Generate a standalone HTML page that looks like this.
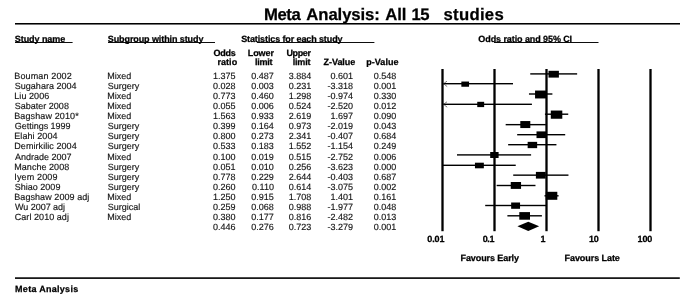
<!DOCTYPE html>
<html><head><meta charset="utf-8"><title>Meta Analysis</title>
<style>
html,body{margin:0;padding:0;background:#fff;}
body{width:685px;height:302px;overflow:hidden;}
svg{display:block;position:absolute;left:0;top:0;will-change:transform;filter:grayscale(1);}
text{font-family:"Liberation Sans",sans-serif;font-size:9px;fill:#141414;white-space:pre;stroke:#141414;stroke-width:0.15px;}
.b{font-weight:bold;fill:#000;stroke:#000;stroke-width:0.25px;}
.t{font-size:16.7px;}
</style></head><body>
<svg width="685" height="302" viewBox="0 0 685 302" text-rendering="geometricPrecision">
<rect x="0" y="0" width="685" height="302" fill="#fff"/>
<text x="264.00" y="20.00" class="b t" letter-spacing="-0.417">Meta</text>
<text x="306.35" y="20.00" class="b t" letter-spacing="-0.088">Analysis:</text>
<text x="385.35" y="20.00" class="b t" letter-spacing="-0.200">All</text>
<text x="411.60" y="20.00" class="b t" letter-spacing="-0.550">15</text>
<text x="443.50" y="20.00" class="b t" letter-spacing="0.292">studies</text>
<text x="14.75" y="42.05" class="b" letter-spacing="-0.056">Study name</text>
<text x="107.75" y="42.05" class="b" letter-spacing="-0.092">Subgroup within study</text>
<text x="241.15" y="42.05" class="b" letter-spacing="-0.110">Statistics for each study</text>
<text x="478.35" y="42.05" class="b" letter-spacing="-0.087">Odds ratio and 95% CI</text>
<text x="213.55" y="56.20" class="b" letter-spacing="-0.233">Odds</text>
<text x="217.50" y="64.50" class="b" letter-spacing="0.038">ratio</text>
<text x="247.70" y="56.20" class="b" letter-spacing="-0.050">Lower</text>
<text x="254.90" y="64.50" class="b" letter-spacing="-0.250">limit</text>
<text x="286.40" y="56.20" class="b" letter-spacing="-0.375">Upper</text>
<text x="292.70" y="64.50" class="b" letter-spacing="-0.175">limit</text>
<text x="323.55" y="64.50" class="b" letter-spacing="-0.050">Z-Value</text>
<text x="366.30" y="64.50" class="b" letter-spacing="0.025">p-Value</text>
<text x="15.10" y="292.00" class="b" letter-spacing="0.283">Meta Analysis</text>
<text x="427.15" y="242.30" class="b" letter-spacing="-0.017">0.01</text>
<text x="482.75" y="242.30" class="b" letter-spacing="-0.425">0.1</text>
<text x="540.50" y="242.30" class="b">1</text>
<text x="589.10" y="242.30" class="b" letter-spacing="-0.250">10</text>
<text x="637.50" y="242.30" class="b" letter-spacing="-0.125">100</text>
<text x="460.50" y="261.00" class="b" letter-spacing="-0.083">Favours Early</text>
<text x="564.50" y="261.00" class="b" letter-spacing="-0.059">Favours Late</text>
<text x="14.25" y="78.60" letter-spacing="0.140">Bouman 2002</text>
<text x="107.25" y="78.60">Mixed</text>
<text x="213.05" y="78.60">1.375</text>
<text x="251.35" y="78.60">0.487</text>
<text x="288.75" y="78.60">3.884</text>
<text x="330.55" y="78.60">0.601</text>
<text x="373.65" y="78.60">0.548</text>
<text x="14.75" y="88.50" letter-spacing="0.021">Sugahara 2004</text>
<text x="107.75" y="88.50">Surgery</text>
<text x="213.05" y="88.50">0.028</text>
<text x="251.35" y="88.50">0.003</text>
<text x="288.75" y="88.50">0.231</text>
<text x="327.55" y="88.50">-3.318</text>
<text x="373.65" y="88.50">0.001</text>
<text x="14.25" y="98.60" letter-spacing="0.071">Liu 2006</text>
<text x="107.25" y="98.60">Mixed</text>
<text x="213.05" y="98.60">0.773</text>
<text x="251.35" y="98.60">0.460</text>
<text x="288.75" y="98.60">1.298</text>
<text x="327.55" y="98.60">-0.974</text>
<text x="373.65" y="98.60">0.330</text>
<text x="14.75" y="108.60" letter-spacing="0.009">Sabater 2008</text>
<text x="107.25" y="108.60">Mixed</text>
<text x="213.05" y="108.60">0.055</text>
<text x="251.35" y="108.60">0.006</text>
<text x="288.75" y="108.60">0.524</text>
<text x="327.55" y="108.60">-2.520</text>
<text x="373.65" y="108.60">0.012</text>
<text x="14.25" y="118.60" letter-spacing="0.112">Bagshaw 2010*</text>
<text x="107.25" y="118.60">Mixed</text>
<text x="213.05" y="118.60">1.563</text>
<text x="251.35" y="118.60">0.933</text>
<text x="288.75" y="118.60">2.619</text>
<text x="330.55" y="118.60">1.697</text>
<text x="373.65" y="118.60">0.090</text>
<text x="14.75" y="128.70" letter-spacing="-0.017">Gettings 1999</text>
<text x="107.75" y="128.70">Surgery</text>
<text x="213.05" y="128.70">0.399</text>
<text x="251.35" y="128.70">0.164</text>
<text x="288.75" y="128.70">0.973</text>
<text x="327.55" y="128.70">-2.019</text>
<text x="373.65" y="128.70">0.043</text>
<text x="14.25" y="139.10" letter-spacing="0.078">Elahi 2004</text>
<text x="107.75" y="139.10">Surgery</text>
<text x="213.05" y="139.10">0.800</text>
<text x="251.35" y="139.10">0.273</text>
<text x="288.75" y="139.10">2.341</text>
<text x="327.55" y="139.10">-0.407</text>
<text x="373.65" y="139.10">0.684</text>
<text x="14.25" y="149.00" letter-spacing="0.064">Demirkilic 2004</text>
<text x="107.75" y="149.00">Surgery</text>
<text x="213.05" y="149.00">0.533</text>
<text x="251.35" y="149.00">0.183</text>
<text x="288.75" y="149.00">1.552</text>
<text x="327.55" y="149.00">-1.154</text>
<text x="373.65" y="149.00">0.249</text>
<text x="15.00" y="159.50" letter-spacing="0.005">Andrade 2007</text>
<text x="107.25" y="159.50">Mixed</text>
<text x="213.05" y="159.50">0.100</text>
<text x="251.35" y="159.50">0.019</text>
<text x="288.75" y="159.50">0.515</text>
<text x="327.55" y="159.50">-2.752</text>
<text x="373.65" y="159.50">0.006</text>
<text x="14.25" y="169.50" letter-spacing="0.040">Manche 2008</text>
<text x="107.75" y="169.50">Surgery</text>
<text x="213.05" y="169.50">0.051</text>
<text x="251.35" y="169.50">0.010</text>
<text x="288.75" y="169.50">0.256</text>
<text x="327.55" y="169.50">-3.623</text>
<text x="373.65" y="169.50">0.000</text>
<text x="14.25" y="179.50" letter-spacing="0.150">Iyem 2009</text>
<text x="107.75" y="179.50">Surgery</text>
<text x="213.05" y="179.50">0.778</text>
<text x="251.35" y="179.50">0.229</text>
<text x="288.75" y="179.50">2.644</text>
<text x="327.55" y="179.50">-0.403</text>
<text x="373.65" y="179.50">0.687</text>
<text x="14.75" y="189.60" letter-spacing="0.011">Shiao 2009</text>
<text x="107.75" y="189.60">Surgery</text>
<text x="213.05" y="189.60">0.260</text>
<text x="252.10" y="189.60">0.110</text>
<text x="288.75" y="189.60">0.614</text>
<text x="327.55" y="189.60">-3.075</text>
<text x="373.65" y="189.60">0.002</text>
<text x="14.25" y="200.00" letter-spacing="0.070">Bagshaw 2009 adj</text>
<text x="107.25" y="200.00">Mixed</text>
<text x="213.05" y="200.00">1.250</text>
<text x="251.35" y="200.00">0.915</text>
<text x="288.75" y="200.00">1.708</text>
<text x="330.55" y="200.00">1.401</text>
<text x="373.65" y="200.00">0.161</text>
<text x="15.00" y="209.70" letter-spacing="-0.035">Wu 2007 adj</text>
<text x="107.75" y="209.70">Surgical</text>
<text x="213.05" y="209.70">0.259</text>
<text x="251.35" y="209.70">0.068</text>
<text x="288.75" y="209.70">0.988</text>
<text x="327.55" y="209.70">-1.977</text>
<text x="373.65" y="209.70">0.048</text>
<text x="14.75" y="220.20" letter-spacing="0.054">Carl 2010 adj</text>
<text x="107.25" y="220.20">Mixed</text>
<text x="213.05" y="220.20">0.380</text>
<text x="251.35" y="220.20">0.177</text>
<text x="288.75" y="220.20">0.816</text>
<text x="327.55" y="220.20">-2.482</text>
<text x="373.65" y="220.20">0.013</text>
<text x="213.05" y="230.40">0.446</text>
<text x="251.35" y="230.40">0.276</text>
<text x="288.75" y="230.40">0.723</text>
<text x="327.55" y="230.40">-3.279</text>
<text x="373.65" y="230.40">0.001</text>
<rect x="15.00" y="23.00" width="665.00" height="1.55" fill="#000"/>
<rect x="15.00" y="277.30" width="664.80" height="1.60" fill="#000"/>
<rect x="15.00" y="42.02" width="57.60" height="0.95" fill="#000"/>
<rect x="108.00" y="42.02" width="107.00" height="0.95" fill="#000"/>
<rect x="257.00" y="42.02" width="117.40" height="0.95" fill="#000"/>
<rect x="494.00" y="42.02" width="104.50" height="0.95" fill="#000"/>
<rect x="441.35" y="69.00" width="2.30" height="162.20" fill="#000"/>
<rect x="493.35" y="69.00" width="2.30" height="162.20" fill="#000"/>
<rect x="545.35" y="69.00" width="2.30" height="162.20" fill="#000"/>
<rect x="597.35" y="69.00" width="2.30" height="162.20" fill="#000"/>
<rect x="649.35" y="69.00" width="2.30" height="162.20" fill="#000"/>
<rect x="530.25" y="73.20" width="46.89" height="1.40" fill="#000"/>
<rect x="548.50" y="70.80" width="10.40" height="6.80" fill="#000"/>
<rect x="442.50" y="83.00" width="70.50" height="1.40" fill="#000"/>
<path d="M447.0 81.20 L443.5 83.70 L447.2 86.60" stroke="#333" stroke-width="0.65" fill="none"/>
<rect x="461.35" y="81.55" width="7.70" height="5.20" fill="#000"/>
<rect x="528.96" y="93.30" width="23.43" height="1.40" fill="#000"/>
<rect x="535.05" y="90.55" width="11.00" height="7.90" fill="#000"/>
<rect x="442.50" y="103.60" width="89.41" height="1.40" fill="#000"/>
<path d="M447.0 101.80 L443.5 104.30 L447.2 107.20" stroke="#333" stroke-width="0.65" fill="none"/>
<rect x="477.25" y="101.80" width="6.90" height="5.30" fill="#000"/>
<rect x="544.93" y="113.50" width="23.31" height="1.40" fill="#000"/>
<rect x="550.80" y="110.55" width="11.50" height="8.20" fill="#000"/>
<rect x="505.67" y="123.95" width="40.21" height="1.40" fill="#000"/>
<rect x="520.30" y="121.05" width="10.00" height="7.00" fill="#000"/>
<rect x="517.18" y="134.00" width="48.02" height="1.40" fill="#000"/>
<rect x="536.50" y="131.40" width="9.90" height="6.70" fill="#000"/>
<rect x="508.15" y="144.00" width="48.28" height="1.40" fill="#000"/>
<rect x="527.65" y="141.85" width="9.50" height="6.30" fill="#000"/>
<rect x="457.00" y="154.20" width="74.10" height="1.40" fill="#000"/>
<rect x="490.20" y="152.00" width="8.40" height="6.00" fill="#000"/>
<rect x="442.50" y="164.60" width="73.23" height="1.40" fill="#000"/>
<rect x="474.95" y="162.70" width="8.90" height="5.60" fill="#000"/>
<rect x="513.21" y="174.45" width="55.25" height="1.40" fill="#000"/>
<rect x="535.90" y="171.90" width="9.80" height="6.70" fill="#000"/>
<rect x="496.65" y="184.80" width="38.83" height="1.40" fill="#000"/>
<rect x="510.75" y="182.00" width="10.30" height="6.90" fill="#000"/>
<rect x="544.49" y="195.10" width="14.10" height="1.40" fill="#000"/>
<rect x="545.80" y="191.80" width="11.50" height="8.00" fill="#000"/>
<rect x="485.20" y="204.80" width="61.03" height="1.40" fill="#000"/>
<rect x="511.15" y="202.50" width="8.90" height="6.30" fill="#000"/>
<rect x="507.39" y="215.10" width="34.51" height="1.40" fill="#000"/>
<rect x="519.30" y="212.10" width="10.70" height="7.60" fill="#000"/>
<polygon points="517.43,226.30 528.27,221.70 539.18,226.30 528.27,230.90" fill="#000"/>
</svg>
</body></html>
